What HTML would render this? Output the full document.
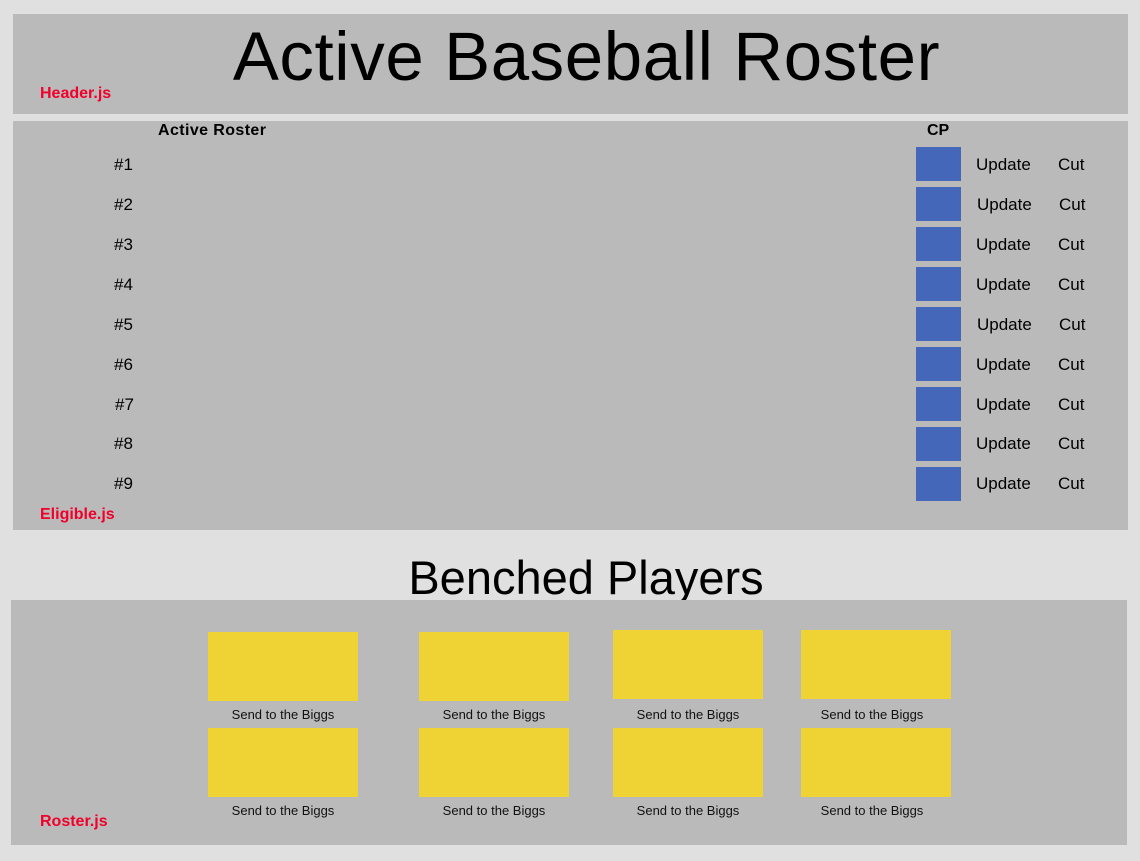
<!DOCTYPE html>
<html><head><style>
body{margin:0;width:1140px;height:861px;background:#e0e0e0;font-family:"Liberation Sans",sans-serif;position:relative;overflow:hidden}
.a{position:absolute}
.p{position:absolute;background:#bababa}
.red{color:#f0002a;font-weight:bold;font-size:16px}
.n{position:absolute;font-size:17px;line-height:20px}
.b{position:absolute;background:#4567b9;width:45px;height:34px;left:916px}
.y{position:absolute;background:#efd233;width:150px;height:69px}
.l{position:absolute;font-size:13px;width:150px;text-align:center;color:#111}
</style></head><body>
<div class="p" style="left:13px;top:14px;width:1115px;height:100px"></div>
<div class="a" style="left:0;width:1173px;top:15px;text-align:center;font-size:69px;line-height:84px;letter-spacing:0.6px">Active Baseball Roster</div>
<div class="a red" style="left:40px;top:85px">Header.js</div>
<div class="p" style="left:13px;top:121px;width:1115px;height:409px"></div>
<div class="a" style="left:158px;top:122px;font-weight:bold;font-size:16px;letter-spacing:0.4px">Active Roster</div>
<div class="a" style="left:927px;top:122px;font-weight:bold;font-size:16px">CP</div>
<div class="a red" style="left:40px;top:506px">Eligible.js</div>
<div class="a" style="left:0;width:1172px;top:550px;text-align:center;font-size:47px;line-height:56px">Benched Players</div>
<div class="p" style="left:11px;top:600px;width:1116px;height:245px"></div>
<div class="a red" style="left:40px;top:813px">Roster.js</div>
<div class="y" style="left:208px;top:632px"></div><div class="l" style="left:208px;top:707px">Send to the Biggs</div>
<div class="y" style="left:419px;top:632px"></div><div class="l" style="left:419px;top:707px">Send to the Biggs</div>
<div class="y" style="left:613px;top:630px"></div><div class="l" style="left:613px;top:707px">Send to the Biggs</div>
<div class="y" style="left:801px;top:630px"></div><div class="l" style="left:797px;top:707px">Send to the Biggs</div>
<div class="y" style="left:208px;top:728px"></div><div class="l" style="left:208px;top:803px">Send to the Biggs</div>
<div class="y" style="left:419px;top:728px"></div><div class="l" style="left:419px;top:803px">Send to the Biggs</div>
<div class="y" style="left:613px;top:728px"></div><div class="l" style="left:613px;top:803px">Send to the Biggs</div>
<div class="y" style="left:801px;top:728px"></div><div class="l" style="left:797px;top:803px">Send to the Biggs</div>

<div class="n" style="left:114px;top:155px">#1</div><div class="b" style="top:147px"></div><div class="n" style="left:976px;top:155px">Update</div><div class="n" style="left:1058px;top:155px">Cut</div>
<div class="n" style="left:114px;top:195px">#2</div><div class="b" style="top:187px"></div><div class="n" style="left:977px;top:195px">Update</div><div class="n" style="left:1059px;top:195px">Cut</div>
<div class="n" style="left:114px;top:235px">#3</div><div class="b" style="top:227px"></div><div class="n" style="left:976px;top:235px">Update</div><div class="n" style="left:1058px;top:235px">Cut</div>
<div class="n" style="left:114px;top:275px">#4</div><div class="b" style="top:267px"></div><div class="n" style="left:976px;top:275px">Update</div><div class="n" style="left:1058px;top:275px">Cut</div>
<div class="n" style="left:114px;top:315px">#5</div><div class="b" style="top:307px"></div><div class="n" style="left:977px;top:315px">Update</div><div class="n" style="left:1059px;top:315px">Cut</div>
<div class="n" style="left:114px;top:355px">#6</div><div class="b" style="top:347px"></div><div class="n" style="left:976px;top:355px">Update</div><div class="n" style="left:1058px;top:355px">Cut</div>
<div class="n" style="left:115px;top:395px">#7</div><div class="b" style="top:387px"></div><div class="n" style="left:976px;top:395px">Update</div><div class="n" style="left:1058px;top:395px">Cut</div>
<div class="n" style="left:114px;top:434px">#8</div><div class="b" style="top:427px"></div><div class="n" style="left:976px;top:434px">Update</div><div class="n" style="left:1058px;top:434px">Cut</div>
<div class="n" style="left:114px;top:474px">#9</div><div class="b" style="top:467px"></div><div class="n" style="left:976px;top:474px">Update</div><div class="n" style="left:1058px;top:474px">Cut</div>
</body></html>
